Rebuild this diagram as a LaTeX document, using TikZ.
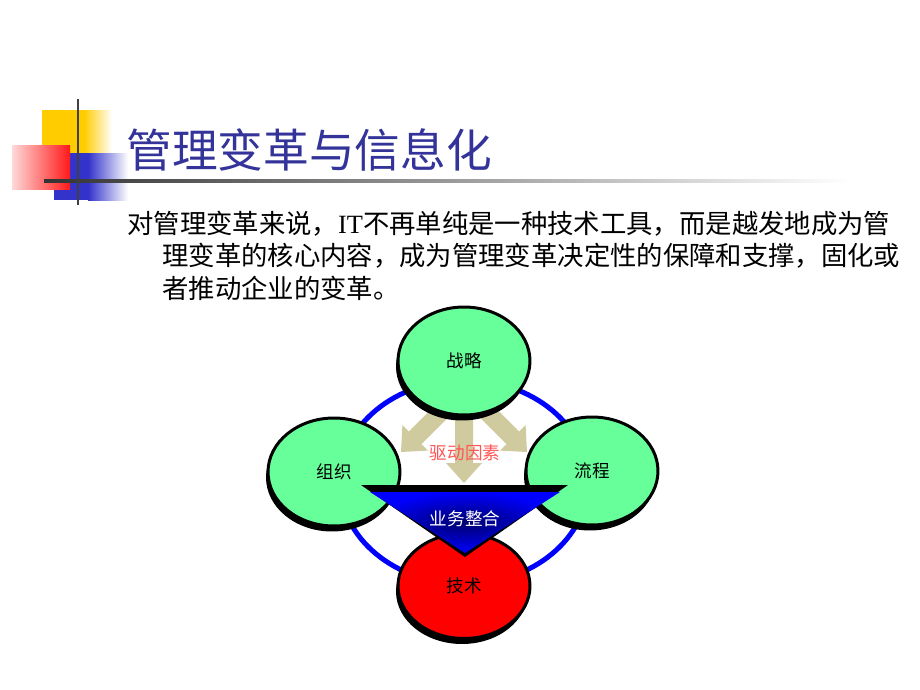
\documentclass[tikz,border=0pt]{standalone}
\usepackage{fontspec}
\setmainfont{Liberation Serif}
\newfontfamily\cjk{Noto Sans CJK SC}
\usetikzlibrary{shapes.geometric,shadows}
\definecolor{titleblue}{RGB}{51,51,153}
\definecolor{mint}{RGB}{102,255,153}
\definecolor{khaki}{RGB}{208,203,158}
\definecolor{drivered}{RGB}{255,85,85}
\definecolor{decoyellow}{RGB}{255,204,0}
\definecolor{decoblue}{RGB}{51,51,204}
\definecolor{deepblue}{RGB}{0,0,110}

\begin{document}
\begin{tikzpicture}[x=0.02cm, y=-0.02cm]
\tikzset{bubble/.style={draw, ellipse, line width=1.7pt, inner sep=0pt,
    minimum width=2.64cm, minimum height=2.16cm,
    font=\cjk\fontsize{10}{12}\selectfont,
    drop shadow={shadow xshift=-0.04cm, shadow yshift=-0.11cm, fill=black, opacity=1}},
  ringline/.style={draw=blue, line width=2.85pt},
  driver/.style={fill=khaki},
  bodytext/.style={anchor=west, inner sep=0pt, font=\cjk\fontsize{15}{18}\selectfont}}
\path[use as bounding box, fill=white] (0,0) rectangle (920,690);
% title decoration
\fill[decoyellow] (42,110) rectangle (84,153);
\shade[left color=decoyellow, right color=white] (84,110) rectangle (112,153);
\fill[decoblue] (54,153) rectangle (88,200);
\shade[left color=decoblue, right color=white] (88,153) rectangle (128,200);
\shade[left color=red!15, right color=red!90] (12,145) rectangle (70,189);
\shade[left color=black!80, right color=white] (44,179.5) rectangle (850,182.5);
\draw[black!75, line width=1.7pt] (78,99) -- (78,205);
% title and text
\node[anchor=west, inner sep=0pt, text=titleblue, font=\cjk\fontsize{26}{30}\selectfont] (title) at (126,150) {管理变革与信息化};
\node[bodytext] (line1) at (127,224) {对管理变革来说，{\rmfamily IT}不再单纯是一种技术工具，而是越发地成为管};
\node[bodytext] (line2) at (162,256) {理变革的核心内容，成为管理变革决定性的保障和支撑，固化或};
\node[bodytext] (line3) at (162,288) {者推动企业的变革。};
% ring and drivers
\draw[ringline] (464,482) ellipse [x radius=2.48cm, y radius=2.04cm];
\foreach \tx/\ty/\ang in {401/452/-45, 464/483/0, 527/452/45} {
  \begin{scope}[shift={(\tx,\ty)}, rotate=\ang]
    \fill[driver] (0,0) -- (-18,-20) -- (-9,-20) -- (-9,-78) -- (9,-78) -- (9,-20) -- (18,-20) -- cycle;
  \end{scope}
}
% the four circles
\node[bubble, fill=mint] (strategy) at (464,361) {战略};
\node[bubble, fill=mint] (org) at (334,472) {组织};
\node[bubble, fill=mint] (process) at (592,471) {流程};
\node[bubble, fill=red, minimum height=2.1cm] (tech) at (464,586) {技术};
% integration wedge
\fill[black] (361,485) -- (568,485) -- (465,557) -- cycle;
\shade[shading=radial, inner color=deepblue, outer color=blue] (370,492) -- (560,492) -- (465,553) -- cycle;
\node[text=white, font=\cjk\fontsize{10}{12}\selectfont] (integr) at (465,519) {业务整合};
\node[text=drivered, font=\cjk\fontsize{10}{12}\selectfont] (drivers) at (465,453) {驱动因素};
\end{tikzpicture}
\end{document}
